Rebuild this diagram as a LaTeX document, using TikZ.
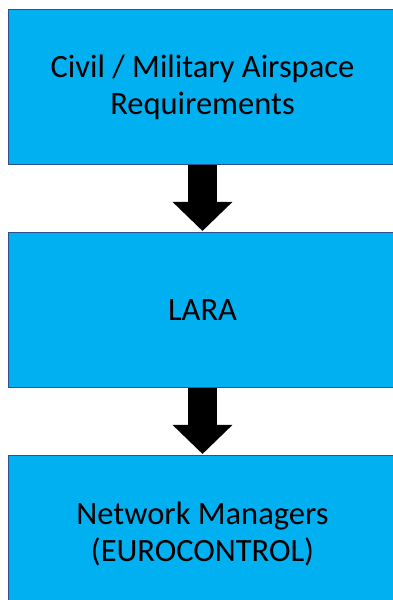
\documentclass[tikz,border=0pt]{standalone}
\usepackage{fontspec}
\setmainfont{Carlito}
\usepackage{tikz}
\usetikzlibrary{arrows.meta,positioning}

\definecolor{boxfill}{HTML}{00B0F0}
\definecolor{boxline}{HTML}{2F528F}

\begin{document}
\begin{tikzpicture}[node distance=68pt,
        box/.style={draw=boxline,line width=1pt,fill=boxfill,outer sep=0pt,
          minimum width=389pt,minimum height=155pt,align=center,
          font=\fontsize{32.5}{37}\selectfont},
        flow/.style={line width=29pt,-{Triangle[width=58pt,length=29pt]},shorten >=2pt}]

  \useasboundingbox (0,0) rectangle (392pt,600pt);

  \node[box] (req) at (202.5pt,512.5pt) {Civil / Military Airspace\\Requirements};
  \node[box] (lara) [below=of req] {LARA};
  \node[box] (nm) [below=of lara] {Network Managers\\(EUROCONTROL)};

  \draw[flow] (req) -- (lara);
  \draw[flow] (lara) -- (nm);

\end{tikzpicture}
\end{document}
